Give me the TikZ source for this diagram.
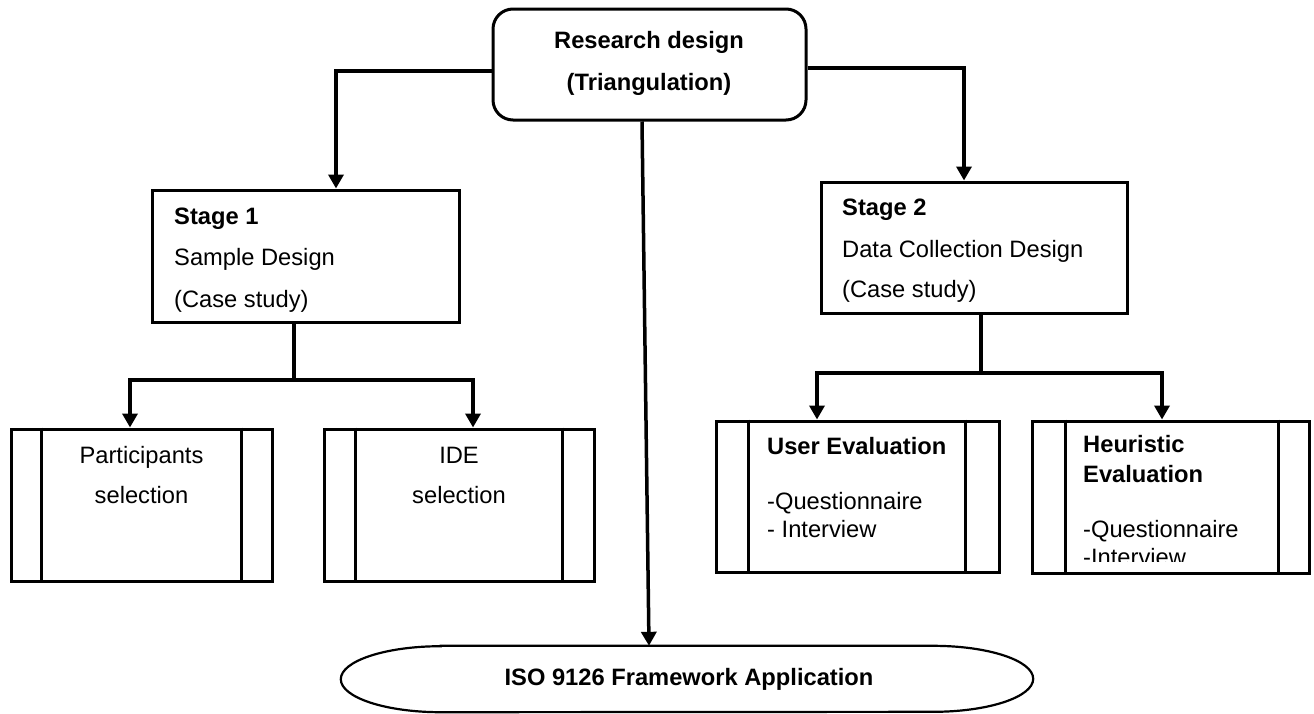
\documentclass[tikz,border=0pt]{standalone}
\usepackage{fontspec}
\setmainfont{Liberation Sans}
\usetikzlibrary{arrows.meta}

\tikzset{
  conn/.style={line width=3.5pt, -{Triangle[width=15pt,length=14pt]}},
  plainline/.style={line width=3.5pt},
  stagebox/.style={draw, line width=3pt, inner sep=0pt},
  procbox/.style={draw, line width=3pt, inner sep=0pt},
  procbar/.style={line width=2.5pt},
  txt/.style={inner sep=0pt, font=\fontsize{23.7}{28}\selectfont},
  btxt/.style={txt, font=\fontsize{23.7}{28}\selectfont\bfseries},
}

\begin{document}
\begin{tikzpicture}[x=1pt, y=-1pt]
\fill[white] (0,0) rectangle (1314,713);
\useasboundingbox (0,0) rectangle (1314,713);

% top node
\node[draw, line width=3pt, rounded corners=20pt, inner sep=0pt,
      minimum width=313pt, minimum height=111pt] (rd) at (649.5,64.5) {};
\node[btxt, anchor=base] (rdA) at (649,48) {Research design};
\node[btxt, anchor=base] (rdB) at (649,90) {(Triangulation)};

% stage boxes
\node[stagebox, minimum width=307pt, minimum height=132pt] (s1) at (305.5,256) {};
\node[btxt, anchor=base west] (s1a) at (174,224) {Stage 1};
\node[txt, anchor=base west] (s1b) at (174,265) {Sample Design};
\node[txt, anchor=base west] (s1c) at (174,307) {(Case study)};

\node[stagebox, minimum width=306pt, minimum height=131pt] (s2) at (974,247.5) {};
\node[btxt, anchor=base west] (s2a) at (842,215) {Stage 2};
\node[txt, anchor=base west] (s2b) at (842,257) {Data Collection Design};
\node[txt, anchor=base west] (s2c) at (842,297) {(Case study)};

% predefined-process boxes
\node[procbox, minimum width=261pt, minimum height=152pt] (p1) at (141.5,505) {};
\draw[procbar] ([xshift=32pt]p1.north west) -- ([xshift=32pt]p1.south west);
\draw[procbar] ([xshift=-32pt]p1.north east) -- ([xshift=-32pt]p1.south east);
\node[txt, anchor=base] (p1a) at (141.5,463) {Participants};
\node[txt, anchor=base] (p1b) at (141.5,503) {selection};

\node[procbox, minimum width=270pt, minimum height=152pt] (p2) at (459,505) {};
\draw[procbar] ([xshift=33pt]p2.north west) -- ([xshift=33pt]p2.south west);
\draw[procbar] ([xshift=-33pt]p2.north east) -- ([xshift=-33pt]p2.south east);
\node[txt, anchor=base] (p2a) at (459,463) {IDE};
\node[txt, anchor=base] (p2b) at (459,503) {selection};

\node[procbox, minimum width=283pt, minimum height=151pt] (ue) at (857.5,496.5) {};
\draw[procbar] ([xshift=34pt]ue.north west) -- ([xshift=34pt]ue.south west);
\draw[procbar] ([xshift=-35pt]ue.north east) -- ([xshift=-35pt]ue.south east);
\node[btxt, anchor=base west] (uea) at (767,454) {User Evaluation};
\node[txt, anchor=base west] (ueb) at (767,509) {-Questionnaire};
\node[txt, anchor=base west] (uec) at (767,537) {- Interview};

\node[procbox, minimum width=277pt, minimum height=152pt] (he) at (1170.5,497) {};
\draw[procbar] ([xshift=35pt]he.north west) -- ([xshift=35pt]he.south west);
\draw[procbar] ([xshift=-32pt]he.north east) -- ([xshift=-32pt]he.south east);
\node[btxt, anchor=base west] (hea) at (1083,452) {Heuristic};
\node[btxt, anchor=base west] (heb) at (1083,482) {Evaluation};
\node[txt, anchor=base west] (hec) at (1083,537) {-Questionnaire};
\begin{scope}
  \clip (1068,425) rectangle (1276,561);
  \node[txt, anchor=base west] (hed) at (1083,565) {-Interview};
\end{scope}

% terminator shape at the bottom
\node[inner sep=0pt, minimum width=692pt, minimum height=66pt] (iso) at (687,679) {};
\draw[line width=2.2pt]
  ([xshift=100pt]iso.north west) -- ([xshift=-100pt]iso.north east)
  arc[start angle=90, end angle=-90, x radius=100pt, y radius=33pt]
  -- ([xshift=100pt]iso.south west)
  arc[start angle=270, end angle=90, x radius=100pt, y radius=33pt]
  -- cycle;
\node[btxt, anchor=base] (isot) at (689,685) {ISO 9126 Framework Application};

% connectors
\draw[conn] ([yshift=-6.5pt]rd.west) -| ([xshift=30.5pt]s1.north);
\draw[conn] ([yshift=-3.5pt]rd.east) -| ([xshift=-10pt]s2.north);
\draw[conn] ([xshift=-7.5pt]rd.south) -- ([xshift=-38pt]iso.north);

\coordinate (j1) at (294,380);
\draw[plainline] ([xshift=-11.5pt]s1.south) -- (j1);
\draw[conn] (j1) -| ([xshift=-11.5pt]p1.north);
\draw[conn] (j1) -| ([xshift=14pt]p2.north);

\coordinate (j2) at (981,373);
\draw[plainline] ([xshift=7pt]s2.south) -- (j2);
\draw[conn] (j2) -| ([xshift=-40.5pt]ue.north);
\draw[conn] (j2) -| ([xshift=-8.5pt]he.north);
\end{tikzpicture}
\end{document}
